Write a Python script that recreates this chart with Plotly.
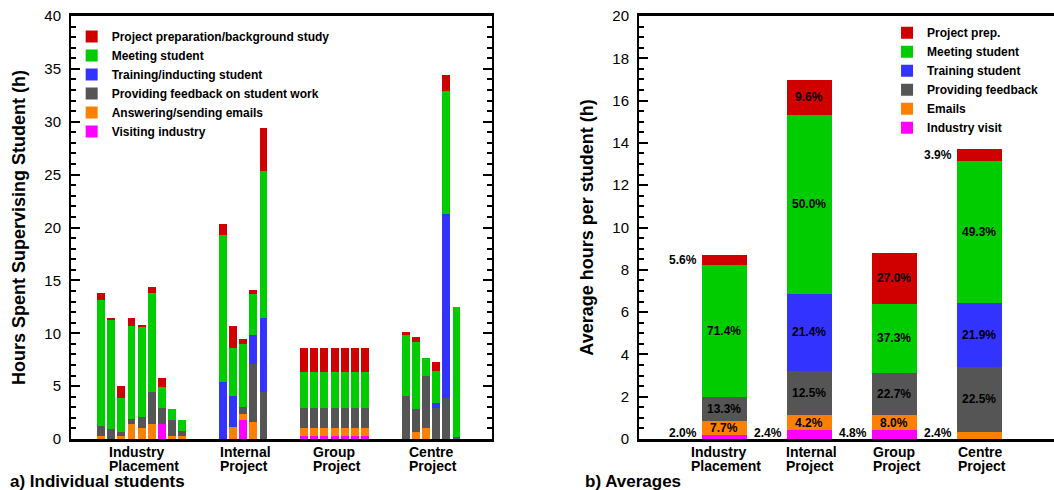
import plotly.graph_objects as go

# ---------------- data: a) individual students ----------------
group_labels = ["Industry<br>Placement", "Internal<br>Project", "Group<br>Project", "Centre<br>Project"]
group_sizes = [9, 5, 7, 6]

activities_a = ["Visiting industry", "Answering/sending emails", "Providing feedback on student work",
                "Training/inducting student", "Meeting student", "Project preparation/background study"]

#                 industry (9)                                               internal (5)                    group (7)                                  centre (6)
visit_a    = [0, 0, 0, 0, 0, 0, 1.38, 0, 0,                                 0, 0, 1.82, 0, 0,               0.26, 0.26, 0.26, 0.26, 0.26, 0.26, 0.26,   0, 0, 0, 0, 0, 0]
email_a    = [0.3, 0, 0.25, 1.38, 1.08, 1.38, 0, 0.3, 0.3,                  0, 1.18, 0.59, 1.57, 0,         0.76, 0.76, 0.76, 0.76, 0.76, 0.76, 0.76,   0, 0.64, 1.03, 0, 0, 0]
feedback_a = [0.89, 0.98, 0.44, 0.49, 1.03, 3.1, 1.53, 1.53, 0.49,         0, 0, 0.59, 5.56, 4.43,         1.95, 1.95, 1.95, 1.95, 1.95, 1.95, 1.95,   4.03, 2.16, 4.92, 2.9, 3.84, 0.15]
training_a = [0, 0, 0, 0, 0, 0, 0, 0, 0,                                    5.36, 2.9, 0, 2.66, 6.99,       0, 0, 0, 0, 0, 0, 0,                        0, 0, 0, 0.49, 17.47, 0]
meeting_a  = [12.0, 10.23, 3.22, 8.86, 8.51, 9.35, 1.97, 1.03, 1.03,        13.97, 4.48, 6.0, 3.89, 13.97,  3.32, 3.32, 3.32, 3.32, 3.32, 3.32, 3.32,   5.76, 6.35, 1.67, 3.0, 11.56, 12.3]
prep_a     = [0.64, 0.2, 1.13, 0.69, 0.2, 0.59, 0.93, 0, 0,                 1.03, 2.16, 0.49, 0.39, 3.99,   2.36, 2.36, 2.36, 2.36, 2.36, 2.36, 2.36,   0.3, 0.49, 0, 0.93, 1.53, 0]

# ---------------- data: b) averages ----------------
categories_b = ["Industry<br>Placement", "Internal<br>Project", "Group<br>Project", "Centre<br>Project"]
total_hours_b = [8.72, 16.95, 8.8, 13.7]
activities_b = ["Industry visit", "Emails", "Providing feedback", "Training student", "Meeting student", "Project prep."]
visit_pct    = [2.0, 2.4, 4.8, 0.0]
email_pct    = [7.7, 4.2, 8.0, 2.4]
feedback_pct = [13.3, 12.5, 22.7, 22.5]
training_pct = [0.0, 21.4, 0.0, 21.9]
meeting_pct  = [71.4, 50.0, 37.3, 49.3]
prep_pct     = [5.6, 9.6, 27.0, 3.9]

colors = ["#FF00FF", "#FF8000", "#555555", "#3333FF", "#00CC00", "#D00000"]
FONT = "Arial, Liberation Sans, Helvetica, sans-serif"

# approximate Arial Bold advance widths (per 1000 em) for left-aligned two-line labels
_W = dict(zip("abcdefghijklmnopqrstuvwxyz", [556, 611, 556, 611, 556, 333, 611, 611, 278, 278, 556, 278, 889,
                                             611, 611, 611, 611, 389, 556, 333, 611, 556, 778, 556, 556, 500]))
_W.update({"I": 278, "P": 667, "G": 778, "C": 722, " ": 278})


def text_width(s, size):
    return sum(_W.get(ch, 600) for ch in s) * size / 1000.0


# x positions for individual bars: groups separated by 3 empty slots
xpos = []
starts = []
pos = 0
for n in group_sizes:
    starts.append(pos)
    xpos.extend(range(pos, pos + n))
    pos += n + 3
centers = [s + (n - 1) / 2 for s, n in zip(starts, group_sizes)]

fig = go.Figure()

series_a = [visit_a, email_a, feedback_a, training_a, meeting_a, prep_a]
for name, vals, col in zip(activities_a, series_a, colors):
    fig.add_trace(go.Bar(x=xpos, y=vals, name=name, marker=dict(color=col, line=dict(width=0)),
                         width=0.78, xaxis="x", yaxis="y", legend="legend"))

series_pct = [visit_pct, email_pct, feedback_pct, training_pct, meeting_pct, prep_pct]
xb = list(range(len(categories_b)))
hours_b = [[p / 100 * t for p, t in zip(pcts, total_hours_b)] for pcts in series_pct]
for name, vals, col in zip(activities_b, hours_b, colors):
    fig.add_trace(go.Bar(x=xb, y=vals, name=name, marker=dict(color=col, line=dict(width=0)),
                         width=0.53, xaxis="x2", yaxis="y2", legend="legend2"))

annotations = []
lab_font = dict(family=FONT, size=12, color="black", weight="bold")
# percentage labels for averages
bw = 0.53
for i in xb:
    base = 0.0
    for pcts, hrs in zip(series_pct, hours_b):
        h = hrs[i]
        p = pcts[i]
        if p > 0:
            mid = base + h / 2
            if h >= 0.6:
                annotations.append(dict(x=i, y=mid, xref="x2", yref="y2", text=f"{p:.1f}%",
                                        showarrow=False, xanchor="center", yanchor="middle", font=lab_font))
            else:
                annotations.append(dict(x=i - bw / 2, y=max(mid, 0.27), xref="x2", yref="y2", text=f"{p:.1f}%",
                                        showarrow=False, xanchor="right", yanchor="middle", xshift=-3,
                                        font=lab_font))
        base += h

# category labels: two lines, left aligned, block centred on the group
cat_font = dict(family=FONT, size=14, color="black", weight="bold")
line_y = [1 - 452 / 490, 1 - 465.5 / 490]


def add_cat_label(xval, xref, label):
    lines = label.split("<br>")
    w = max(text_width(s, 14) for s in lines)
    for s, yv in zip(lines, line_y):
        annotations.append(dict(x=xval, y=yv, xref=xref, yref="paper", text=s, showarrow=False,
                                xanchor="left", yanchor="middle", xshift=-w / 2, font=cat_font))


for c, lab in zip(centers, group_labels):
    add_cat_label(c, "x", lab)
for i, lab in zip(xb, categories_b):
    add_cat_label(i, "x2", lab)

annotations.append(dict(x=8 / 1054, y=1 - 481 / 490, xref="paper", yref="paper", text="a) Individual students",
                        showarrow=False, xanchor="left", yanchor="middle",
                        font=dict(family=FONT, size=17, color="black", weight="bold")))
annotations.append(dict(x=583 / 1054, y=1 - 481 / 490, xref="paper", yref="paper", text="b) Averages",
                        showarrow=False, xanchor="left", yanchor="middle",
                        font=dict(family=FONT, size=17, color="black", weight="bold")))

ydom = [1 - 439 / 490, 1 - 16 / 490]
axis_common = dict(showline=True, linecolor="black", showgrid=False, zeroline=False, automargin=False)

fig.update_layout(
    width=1054, height=490,
    margin=dict(l=0, r=0, t=0, b=0),
    paper_bgcolor="white", plot_bgcolor="white",
    barmode="stack", bargap=0,
    font=dict(family=FONT, color="black"),
    xaxis=dict(domain=[71 / 1054, 492 / 1054], range=[-2.96, 38.5], ticks="", showticklabels=False,
               linewidth=2.5, mirror=True, **axis_common),
    yaxis=dict(domain=ydom, range=[0, 40], dtick=5, ticks="inside", ticklen=9, tickwidth=2, tickcolor="black",
               minor=dict(dtick=1, ticks="inside", ticklen=5, tickwidth=1.5, tickcolor="black"),
               tickfont=dict(family=FONT, size=15, color="black"), ticklabelstandoff=5,
               title=dict(text="Hours Spent Supervising Student (h)", standoff=14,
                          font=dict(family=FONT, size=18, color="black", weight="bold")),
               linewidth=2, mirror="ticks", **axis_common),
    xaxis2=dict(domain=[639 / 1054, 1.0], range=[-1.005, 3.88], ticks="", showticklabels=False,
                linewidth=2.5, mirror=True, **axis_common),
    yaxis2=dict(domain=ydom, range=[0, 20], dtick=2, ticks="inside", ticklen=9, tickwidth=2, tickcolor="black",
                minor=dict(dtick=0.5, ticks="inside", ticklen=5, tickwidth=1.5, tickcolor="black"),
                tickfont=dict(family=FONT, size=15, color="black"), ticklabelstandoff=5,
                title=dict(text="Average hours per student (h)", standoff=14,
                           font=dict(family=FONT, size=18, color="black", weight="bold")),
                anchor="x2", linewidth=2, mirror=False, **axis_common),
    legend=dict(x=0.068, y=0.955, xanchor="left", yanchor="top", traceorder="reversed",
                bgcolor="rgba(0,0,0,0)", font=dict(family=FONT, size=12, color="black", weight="bold")),
    legend2=dict(x=0.8416, y=0.963, xanchor="left", yanchor="top", traceorder="reversed",
                 bgcolor="rgba(0,0,0,0)", font=dict(family=FONT, size=12, color="black", weight="bold")),
    annotations=annotations,
)

fig.write_html("out.html", config={"displayModeBar": False},
               post_script="document.body.style.margin='0';document.body.style.overflow='hidden';")
